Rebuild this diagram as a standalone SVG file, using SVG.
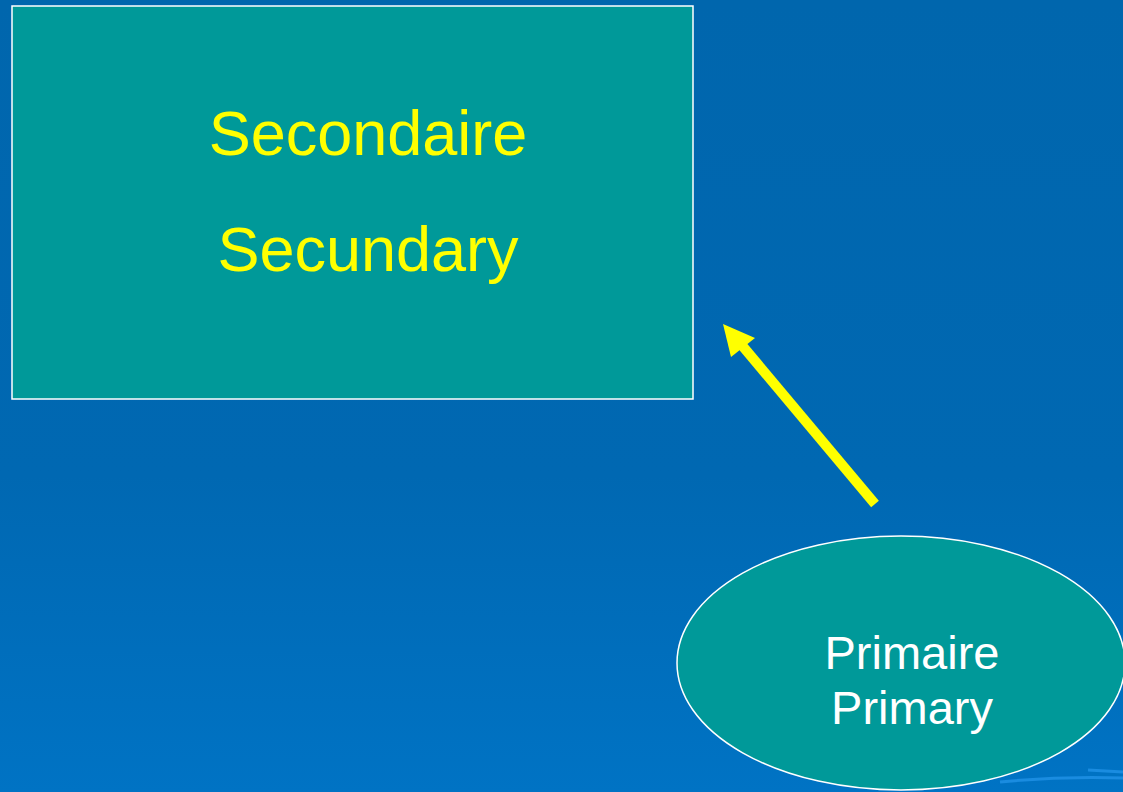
<svg xmlns="http://www.w3.org/2000/svg" width="1123" height="792" viewBox="0 0 1123 792">
<defs>
<linearGradient id="bg" x1="0" y1="0" x2="0" y2="1">
<stop offset="0" stop-color="#0066AD"/>
<stop offset="0.6" stop-color="#0068B2"/>
<stop offset="1" stop-color="#0073C4"/>
</linearGradient>
<style>
.node{fill:#009999;stroke:#FFFFFF;stroke-width:1.5}
.t{font-family:"Liberation Sans",Arial,sans-serif;text-anchor:middle}
.ty{fill:#FFFF00;font-size:63px}
.tw{fill:#FFFFFF;font-size:47px}
</style>
</defs>
<rect width="1123" height="792" fill="url(#bg)"/>
<g id="swoosh" fill="none" stroke="#1A8CE0" stroke-width="3">
<path d="M1088 770 L1123 772"/>
<path d="M1000 782 Q1060 776 1123 778"/>
</g>
<g id="secondary">
<rect class="node" x="12" y="6" width="681" height="393"/>
<text class="t ty" x="368" y="155">Secondaire</text>
<text class="t ty" x="368" y="271">Secundary</text>
</g>
<g id="primary">
<ellipse class="node" cx="901" cy="663" rx="224" ry="127"/>
<text class="t tw" x="912" y="669">Primaire</text>
<text class="t tw" x="912" y="724">Primary</text>
</g>
<g id="connectors">
<line x1="875" y1="504" x2="740" y2="343" stroke="#FFFF00" stroke-width="10"/>
<polygon points="723,324 755,338 731,357" fill="#FFFF00"/>
</g>
</svg>
